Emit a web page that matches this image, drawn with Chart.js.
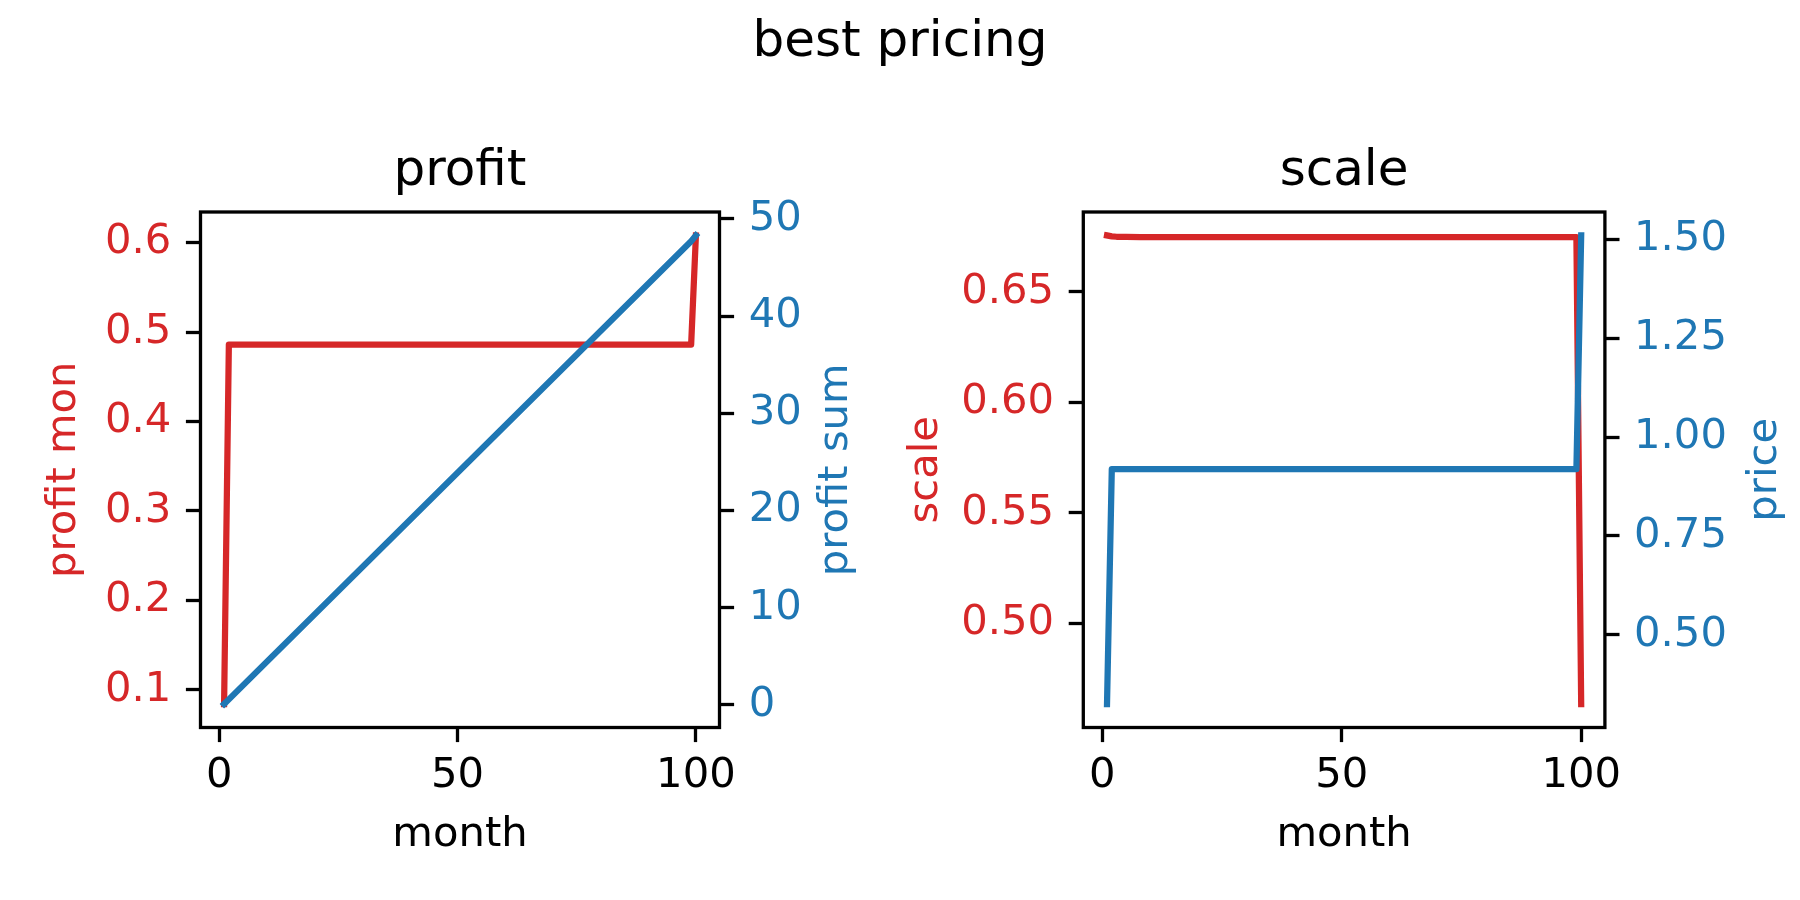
<!DOCTYPE html>
<html>
<head>
<meta charset="utf-8">
<title>best pricing</title>
<script src="https://cdn.jsdelivr.net/npm/chart.js@4.4.1/dist/chart.umd.min.js"></script>
<style>
  html, body { margin: 0; padding: 0; background: #fff; }
  #page { position: relative; width: 1800px; height: 900px; overflow: hidden; }
  #suptitle { position: absolute; left: 0; top: 9px; width: 1800px; text-align: center;
              font: 50px/60px 'DejaVu Sans', sans-serif; color: #000; }
  canvas { position: absolute; top: 0; }
</style>
</head>
<body>
<div id="page">
  <div id="suptitle">best pricing</div>
  <canvas id="profitChart" width="900" height="900" style="left:0"></canvas>
  <canvas id="scaleChart" width="900" height="900" style="left:900px"></canvas>
</div>
<script>
"use strict";
// values: month -> value (flat stretches only need their ends)
var profitMonths = [1, 2, 99, 100];
var profitMon = [0.084, 0.486, 0.486, 0.608];
var profitSum = [0.084, 0.57, 47.71, 48.3];

var scaleMonths = [1, 2, 3, 5, 8, 99, 100];
var scaleVals = [0.6756, 0.6752, 0.6750, 0.6749, 0.6748, 0.6748, 0.4634];
var priceMonths = [1, 2, 99, 100];
var priceVals = [0.325, 0.919, 0.919, 1.51];

var monthTicks = [0, 50, 100];
var profitMonTicks = [0.1, 0.2, 0.3, 0.4, 0.5, 0.6];
var profitSumTicks = [0, 10, 20, 30, 40, 50];
var scaleTicks = [0.50, 0.55, 0.60, 0.65];
var priceTicks = [0.50, 0.75, 1.00, 1.25, 1.50];

var RED = "#d62728", BLUE = "#1f77b4";
var TICK_FONT = 41.7, TICK_LEN = 14.6, SPINE = 3.3;

Chart.defaults.font.family = "'DejaVu Sans', sans-serif";
Chart.defaults.color = "#000";

function points(xs, ys) {
    return xs.map(function(x, i) { return { x: x, y: ys[i] }; });
}

// matplotlib-like 5% margins around the data
function padded(vals) {
    var lo = Math.min.apply(null, vals), hi = Math.max.apply(null, vals), m = (hi - lo) * 0.05;
    return { min: lo - m, max: hi + m };
}

function line(label, xs, ys, color, axisId, order) {
    return {
        label: label,
        data: points(xs, ys),
        yAxisID: axisId,
        borderColor: color,
        backgroundColor: color,
        borderWidth: 6.25,
        borderCapStyle: "square",
        borderJoinStyle: "round",
        pointRadius: 0,
        tension: 0,
        fill: false,
        order: order
    };
}

function tickGrid() {
    return { display: true, drawOnChartArea: false, drawTicks: true, tickLength: TICK_LEN,
             tickWidth: SPINE, tickColor: "#000" };
}

function yAxis(pos, vals, ticks, decimals, color, size, title, titlePad) {
    var r = padded(vals);
    return {
        type: "linear", position: pos, min: r.min, max: r.max,
        grid: tickGrid(), border: { display: false },
        afterBuildTicks: function(s) { s.ticks = ticks.map(function(v) { return { value: v }; }); },
        afterFit: function(s) { s.width = size; },
        ticks: {
            color: color, padding: TICK_LEN, font: { size: TICK_FONT },
            callback: function(v) { return Number(v).toFixed(decimals); }
        },
        title: title ? { display: true, text: title, color: color, font: { size: TICK_FONT },
                         padding: { top: titlePad, bottom: 0 } } : { display: false }
    };
}

function xAxis(months) {
    var r = padded(months);
    return {
        type: "linear", position: "bottom", min: r.min, max: r.max,
        grid: tickGrid(), border: { display: false },
        afterBuildTicks: function(s) { s.ticks = monthTicks.map(function(v) { return { value: v }; }); },
        afterFit: function(s) { s.height = 172.5; },
        ticks: { padding: 9.5, maxRotation: 0, font: { size: TICK_FONT } },
        title: { display: true, text: "month", font: { size: TICK_FONT }, padding: { top: 0, bottom: 40 } }
    };
}

// box around the axes, drawn over the lines like matplotlib spines
var framePlugin = {
    id: "frame",
    afterDraw: function(chart) {
        var a = chart.chartArea, ctx = chart.ctx;
        ctx.save();
        ctx.lineWidth = SPINE;
        ctx.strokeStyle = "#000";
        ctx.strokeRect(a.left, a.top, a.right - a.left, a.bottom - a.top);
        ctx.restore();
    }
};

// right-hand axis label, rotated to read bottom-to-top
var rightTitlePlugin = {
    id: "rightTitle",
    afterDraw: function(chart, args, opts) {
        var a = chart.chartArea, ctx = chart.ctx;
        ctx.save();
        ctx.translate(a.right + opts.offset, (a.top + a.bottom) / 2);
        ctx.rotate(-Math.PI / 2);
        ctx.font = TICK_FONT + "px 'DejaVu Sans', sans-serif";
        ctx.fillStyle = opts.color;
        ctx.textAlign = "center";
        ctx.textBaseline = "middle";
        ctx.fillText(opts.text, 0, 0);
        ctx.restore();
    }
};

function makeChart(id, title, datasets, scales, right) {
    return new Chart(document.getElementById(id).getContext("2d"), {
        type: "line",
        data: { datasets: datasets },
        options: {
            responsive: false,
            animation: false,
            layout: { padding: 0 },
            scales: scales,
            plugins: {
                legend: { display: false },
                tooltip: { enabled: false },
                title: { display: true, text: title, fullSize: false, color: "#000",
                         font: { size: 50, weight: "normal" }, padding: { top: 142, bottom: 10 } },
                rightTitle: right
            }
        },
        plugins: [framePlugin, rightTitlePlugin]
    });
}

makeChart("profitChart", "profit",
    [line("profit mon", profitMonths, profitMon, RED, "y", 2),
     line("profit sum", profitMonths, profitSum, BLUE, "y2", 1)],
    {
        x: xAxis(profitMonths),
        y: yAxis("left", profitMon, profitMonTicks, 1, RED, 200.5, "profit mon", 39),
        y2: yAxis("right", profitSum, profitSumTicks, 0, BLUE, 180.5, null, 0)
    },
    { text: "profit sum", color: BLUE, offset: 116.5 });

makeChart("scaleChart", "scale",
    [line("scale", scaleMonths, scaleVals, RED, "y", 2),
     line("price", priceMonths, priceVals, BLUE, "y2", 1)],
    {
        x: xAxis(scaleMonths.concat(priceMonths)),
        y: yAxis("left", scaleVals, scaleTicks, 2, RED, 183.3, "scale", 1),
        y2: yAxis("right", priceVals, priceTicks, 2, BLUE, 195.1, null, 0)
    },
    { text: "price", color: BLUE, offset: 160.5 });
</script>
</body>
</html>
